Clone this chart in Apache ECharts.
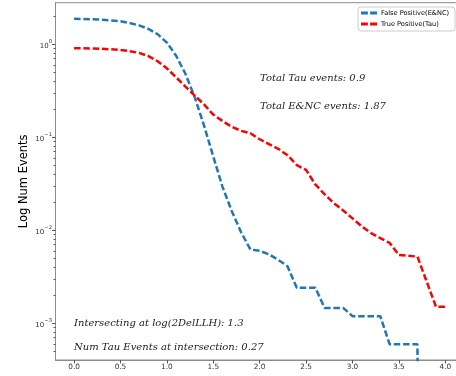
<!DOCTYPE html>
<html>
<head>
<meta charset="utf-8">
<script src="https://cdn.jsdelivr.net/npm/echarts@6/dist/echarts.min.js"></script>
<style>
  html, body { margin: 0; padding: 0; background: #fff; }
  #chart { width: 456px; height: 376px; }
</style>
</head>
<body>
<div id="chart"></div>
<script>
// Cut value on log(2DelLLH)
const thresholds = [
  0.0, 0.1, 0.2, 0.3, 0.4, 0.5, 0.6, 0.7, 0.8, 0.9,
  1.0, 1.1, 1.2, 1.3, 1.4, 1.5, 1.6, 1.7, 1.8, 1.9,
  2.0, 2.1, 2.2, 2.3, 2.4, 2.5, 2.6, 2.7, 2.8, 2.9,
  3.0, 3.1, 3.2, 3.3, 3.4, 3.5, 3.6, 3.7, 3.8, 3.9, 4.0
];

// Events passing each cut: E&NC background (false positives)
const falsePositive = [
  1.87, 1.865, 1.85, 1.83, 1.80, 1.76, 1.69, 1.59, 1.46, 1.28,
  1.04, 0.75, 0.48, 0.27, 0.134, 0.062, 0.0292, 0.016, 0.0095, 0.0062,
  0.0060, 0.0055, 0.0048, 0.0041, 0.0024, 0.0024, 0.0024, 0.00146, 0.00146, 0.00146,
  0.00119, 0.00119, 0.00119, 0.00119, 0.000595, 0.000595, 0.000595, 0.000595, 0, 0, 0
];

// Events passing each cut: Tau signal (true positives)
const truePositive = [
  0.905, 0.902, 0.897, 0.89, 0.88, 0.865, 0.84, 0.805, 0.745, 0.655,
  0.55, 0.44, 0.35, 0.28, 0.225, 0.175, 0.149, 0.129, 0.117, 0.110,
  0.095, 0.084, 0.075, 0.064, 0.050, 0.0445, 0.031, 0.0243, 0.0195, 0.0163,
  0.0134, 0.0110, 0.0093, 0.0082, 0.0073, 0.0054, 0.0053, 0.0052, 0.0028, 0.0015, 0.0015
];

const seriesNames = ['False Positive(E&NC)', 'True Positive(Tau)'];

const xTickValues = [0.0, 0.5, 1.0, 1.5, 2.0, 2.5, 3.0, 3.5, 4.0];
const yMajorTicks = [1e-3, 1e-2, 1e-1, 1];
const yMinorTicks = [
  5e-4, 6e-4, 7e-4, 8e-4, 9e-4,
  2e-3, 3e-3, 4e-3, 5e-3, 6e-3, 7e-3, 8e-3, 9e-3,
  2e-2, 3e-2, 4e-2, 5e-2, 6e-2, 7e-2, 8e-2, 9e-2,
  2e-1, 3e-1, 4e-1, 5e-1, 6e-1, 7e-1, 8e-1, 9e-1,
  2
];

const noteLines = [
  'Total Tau events: 0.9',
  'Total E&NC events: 1.87',
  'Intersecting at log(2DelLLH): 1.3',
  'Num Tau Events at intersection: 0.27'
];

// A log axis cannot place zero, so empty bins are clipped to a tiny floor
const LOG_FLOOR = 1e-12;
const toPairs = vals => thresholds.map((x, i) => [x, vals[i] > 0 ? vals[i] : LOG_FLOOR]);

const SPINE = '#8c8c8c';
const TICK = '#555';
const NOTE_FONT = 'italic 10px "DejaVu Serif"';

const chart = echarts.init(document.getElementById('chart'), null, { renderer: 'canvas' });

const legendIcon = 'path://M0,0H7V3H0Z M9.3,0H16.3V3H9.3Z';

chart.setOption({
  animation: false,
  backgroundColor: '#fff',
  grid: {
    left: 55.5, top: 2.7, width: 408.3, height: 357.3,
    containLabel: false, outerBoundsMode: 'none',
    show: true, borderColor: SPINE, borderWidth: 1, backgroundColor: 'transparent'
  },
  legend: {
    orient: 'vertical',
    left: 358, top: 7,
    padding: [2, 6, 3, 3],
    itemGap: 3,
    itemWidth: 16, itemHeight: 3,
    backgroundColor: 'rgba(255,255,255,0.85)',
    borderColor: '#cccccc', borderWidth: 1, borderRadius: 3,
    textStyle: { fontFamily: 'DejaVu Sans', fontSize: 6.6, color: '#000', lineHeight: 8, padding: [0, 0, 0, -1] },
    data: [
      { name: seriesNames[0], icon: legendIcon },
      { name: seriesNames[1], icon: legendIcon }
    ]
  },
  xAxis: {
    type: 'value', min: -0.2, max: 4.2,
    axisLine: { show: true, onZero: false, lineStyle: { color: SPINE, width: 1 } },
    axisTick: { show: true, length: 3.5, lineStyle: { color: TICK }, customValues: xTickValues },
    axisLabel: {
      customValues: xTickValues,
      formatter: v => Number(v).toFixed(1),
      fontFamily: 'DejaVu Sans', fontSize: 7.3, color: '#333', margin: 4
    },
    splitLine: { show: false }
  },
  yAxis: [
    {
      type: 'log', logBase: 10, min: 4.02e-4, max: 2.79,
      name: 'Log Num Events', nameLocation: 'middle', nameGap: 25, nameMoveOverlap: false,
      nameTextStyle: { fontFamily: 'DejaVu Sans', fontSize: 11.5, color: '#000' },
      axisLine: { show: true, onZero: false, lineStyle: { color: SPINE, width: 1 } },
      axisTick: { show: true, length: 3.5, lineStyle: { color: TICK }, customValues: yMajorTicks },
      axisLabel: {
        customValues: yMajorTicks,
        margin: 3.5,
        formatter: v => {
          const p = Math.round(Math.log10(v));
          return '{b|10}{e|' + (p < 0 ? '\u2212' + (-p) : p) + '}';
        },
        rich: {
          b: { fontFamily: 'DejaVu Sans', fontSize: 7, color: '#333', lineHeight: 11, verticalAlign: 'bottom' },
          e: { fontFamily: 'DejaVu Sans', fontSize: 5.3, color: '#333', verticalAlign: 'top' }
        }
      },
      splitLine: { show: false }
    },
    {
      type: 'log', logBase: 10, min: 4.02e-4, max: 2.79, position: 'left',
      axisLine: { show: false, onZero: false },
      axisTick: { show: true, length: 2, lineStyle: { color: TICK }, customValues: yMinorTicks },
      axisLabel: { show: false },
      splitLine: { show: false }
    }
  ],
  graphic: [
    { type: 'text', left: 260, top: 73, style: { text: noteLines[0], font: NOTE_FONT, fill: '#222' } },
    { type: 'text', left: 260, top: 101, style: { text: noteLines[1], font: NOTE_FONT, fill: '#222' } },
    { type: 'text', left: 74, top: 318.5, style: { text: noteLines[2], font: NOTE_FONT, fill: '#222' } },
    { type: 'text', left: 74, top: 342.5, style: { text: noteLines[3], font: NOTE_FONT, fill: '#222' } }
  ],
  series: [
    {
      name: seriesNames[0], type: 'line', yAxisIndex: 0,
      data: toPairs(falsePositive),
      showSymbol: false, symbol: 'none', clip: true,
      itemStyle: { color: '#1f77b4' },
      lineStyle: { color: '#1f77b4', width: 2.5, type: [6.5, 2.8] }
    },
    {
      name: seriesNames[1], type: 'line', yAxisIndex: 0,
      data: toPairs(truePositive),
      showSymbol: false, symbol: 'none', clip: true,
      itemStyle: { color: '#ff0000' },
      lineStyle: { color: '#ff0000', width: 2.5, type: [6.5, 2.8] }
    }
  ]
});
</script>
</body>
</html>
